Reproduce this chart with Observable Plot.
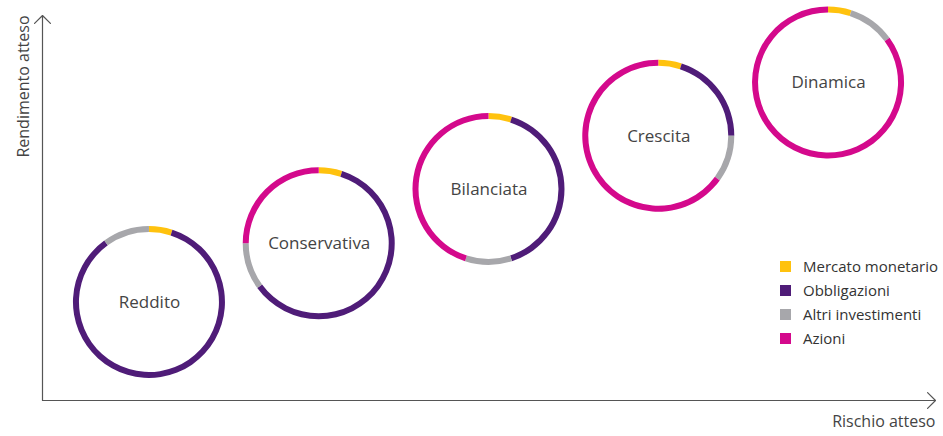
<!DOCTYPE html>
<html>
<head>
<meta charset="utf-8">
<script src="https://cdn.jsdelivr.net/npm/d3@7"></script>
<script src="https://cdn.jsdelivr.net/npm/@observablehq/plot@0.6"></script>
<style>
  html, body { margin: 0; padding: 0; background: #fff; }
  #wrap { position: relative; width: 943px; height: 436px; font-family: "Open Sans", "Noto Sans", sans-serif; }
  #legend { position: absolute; left: 780px; top: 254px; font-size: 15px; color: #333; }
  .row { height: 24px; display: flex; align-items: center; }
  .sw { width: 11px; height: 11px; margin-right: 12px; flex: none; }
</style>
</head>
<body>
<div id="wrap"></div>
<script>
// ---- data ----
const profiles = ["Reddito", "Conservativa", "Bilanciata", "Crescita", "Dinamica"];
const risk = [1, 2, 3, 4, 5];                     // rischio atteso (level)
const expectedReturn = [1, 2.07, 3.06, 4.03, 5];  // rendimento atteso (level)
const categories = ["Mercato monetario", "Obbligazioni", "Altri investimenti", "Azioni"];
const colors = ["#FFC20E", "#4F1C78", "#A7A7AB", "#D4098C"];
const moneyMarket = [5, 5, 5, 5, 5];
const bonds = [85, 60, 40, 20, 0];
const otherInvestments = [10, 10, 10, 10, 10];
const equities = [0, 25, 45, 65, 85];

// ---- build segment table ----
const series = [moneyMarket, bonds, otherInvestments, equities];
const segments = [];
profiles.forEach((p, i) => {
  let acc = 0;
  categories.forEach((c, k) => {
    const v = series[k][i];
    if (v > 0) segments.push({profile: p, risk: risk[i], ret: expectedReturn[i], cat: c, start: acc, end: acc + v});
    acc += v;
  });
});
const centers = profiles.map((p, i) => ({profile: p, risk: risk[i], ret: expectedReturn[i]}));

const xDomain = [0.37, 5.63];
const yDomain = [-0.786, 6.23];
const axisColor = "#555";
const arc = d3.arc().innerRadius(70).outerRadius(76);

const chart = Plot.plot({
  width: 943,
  height: 436,
  marginLeft: 42,
  marginRight: 8,
  marginTop: 15,
  marginBottom: 36,
  style: {fontFamily: "'Open Sans', 'Noto Sans', sans-serif", background: "#fff"},
  x: {domain: xDomain, axis: null},
  y: {domain: yDomain, axis: null},
  color: {domain: categories, range: colors},
  marks: [
    Plot.arrow([0], {x1: xDomain[0], y1: yDomain[0], x2: xDomain[0], y2: yDomain[1], stroke: axisColor, strokeWidth: 1.2, headAngle: 90, headLength: 14}),
    Plot.arrow([0], {x1: xDomain[0], y1: yDomain[0], x2: xDomain[1], y2: yDomain[0], stroke: axisColor, strokeWidth: 1.2, headAngle: 90, headLength: 14}),
    Plot.dot(segments, {
      x: "risk", y: "ret", fill: "cat",
      render(index, scales, values) {
        const g = d3.create("svg:g");
        for (const i of index) {
          const d = segments[i];
          g.append("path")
            .attr("transform", `translate(${values.x[i]},${values.y[i]})`)
            .attr("fill", values.fill[i])
            .attr("d", arc({startAngle: d.start / 100 * 2 * Math.PI, endAngle: d.end / 100 * 2 * Math.PI}));
        }
        return g.node();
      }
    }),
    Plot.text(centers, {x: "risk", y: "ret", text: "profile", fontSize: 17, fill: "#444"}),
    Plot.text(["Rischio atteso"], {frameAnchor: "bottom-right", dy: 26, dx: 0, textAnchor: "end", fontSize: 16, fill: "#444"}),
    Plot.text(["Rendimento atteso"], {frameAnchor: "top-left", dx: -25, dy: 71, rotate: -90, textAnchor: "middle", fontSize: 16, fill: "#444"})
  ]
});

const wrap = document.getElementById("wrap");
wrap.appendChild(chart);
const legend = document.createElement("div");
legend.id = "legend";
categories.forEach((c, k) => {
  const row = document.createElement("div");
  row.className = "row";
  const sw = document.createElement("span");
  sw.className = "sw";
  sw.style.background = colors[k];
  const t = document.createElement("span");
  t.textContent = c;
  row.appendChild(sw);
  row.appendChild(t);
  legend.appendChild(row);
});
wrap.appendChild(legend);
</script>
</body>
</html>
